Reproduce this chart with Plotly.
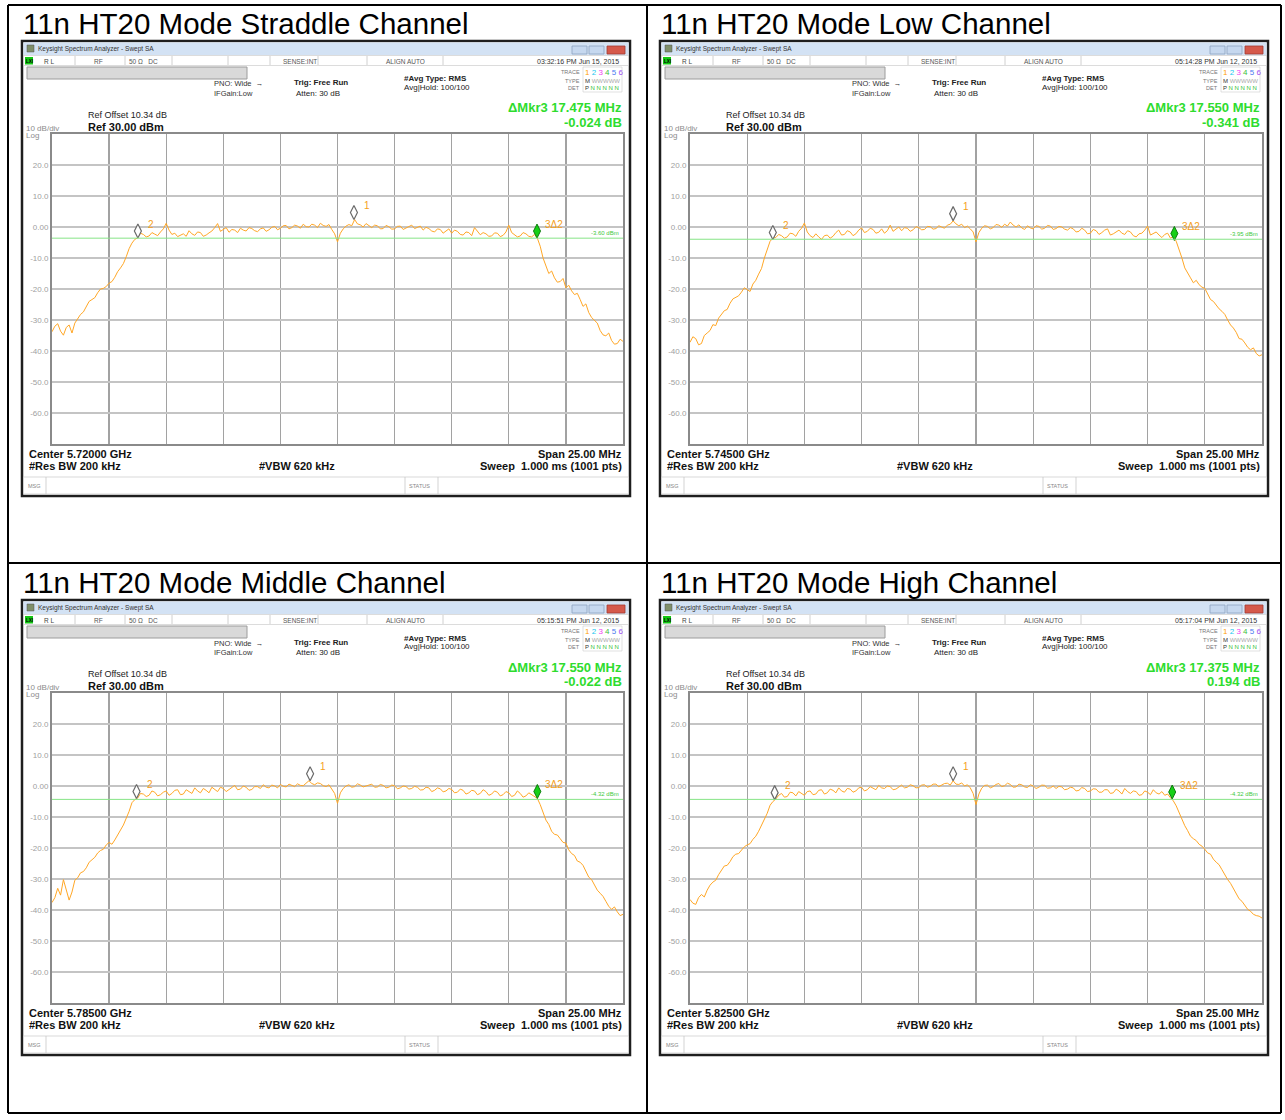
import plotly.graph_objects as go

W, H = 1285, 1120
FONT = "Liberation Sans, Arial, sans-serif"

# ---------------- data ----------------
PANEL_TITLES = ["11n HT20 Mode Straddle Channel", "11n HT20 Mode Low Channel",
                "11n HT20 Mode Middle Channel", "11n HT20 Mode High Channel"]
CENTER_FREQ = ["5.72000 GHz", "5.74500 GHz", "5.78500 GHz", "5.82500 GHz"]
TIMESTAMPS = ["03:32:16 PM Jun 15, 2015", "05:14:28 PM Jun 12, 2015",
              "05:15:51 PM Jun 12, 2015", "05:17:04 PM Jun 12, 2015"]
DELTA_MKR_MHZ = [17.475, 17.550, 17.550, 17.375]
DELTA_MKR_DB = [-0.024, -0.341, -0.022, 0.194]
DISPLAY_LINE_DBM = [-3.60, -3.95, -4.32, -4.32]
MKR1_MHZ = [0.72, -1.00, -1.20, -1.00]
MKR1_DBM = [2.40, 2.05, 1.68, 1.68]
MKR2_MHZ = [-8.74, -8.88, -8.80, -8.80]
MKR2_DBM = [-3.55, -4.00, -4.00, -4.40]

Y_TICKS = [20, 10, 0, -10, -20, -30, -40, -50, -60]
Y_TICK_TEXT = ["20.0", "10.0", "0.00", "-10.0", "-20.0", "-30.0", "-40.0", "-50.0", "-60.0"]

SPAN_MHZ = 25.0
FREQ_OFFSET_MHZ = [round(-12.5 + 0.125 * i, 3) for i in range(201)]

TRACE_STRADDLE = [
    -33.8, -32.0, -31.2, -33.6, -34.9, -32.4, -31.6, -34.2, -31.0, -29.4,
    -28.2, -27.4, -25.6, -24.0, -23.4, -22.8, -21.2, -20.0, -19.8, -19.2,
    -18.1, -17.6, -16.2, -14.4, -13.2, -11.8, -9.6, -7.0, -5.2, -4.0,
    -3.5, -2.0, -2.4, -3.2, -2.9, -1.8, -2.3, -2.8, -1.6, -0.6,
    1.2, -1.0, -2.4, -2.0, -3.1, -2.6, -2.2, -3.0, -1.2, -2.2,
    -2.7, -1.6, -1.8, -3.0, -2.6, -1.9, -1.3, -0.2, 1.1, -1.4,
    -0.9, -0.2, -1.7, -0.8, -1.0, -1.8, -0.4, -1.0, -1.3, -0.2,
    -0.5, -1.2, -1.5, -0.6, -0.3, -1.4, -0.9, -0.1, 0.2, -0.9,
    -0.4, 0.4, 0.5, -0.6, -0.2, 0.6, 0.3, -0.4, 0.9, 0.1,
    0.0, 0.9, 0.6, -0.2, 1.2, 0.5, 0.2, 0.8, -0.8, -2.2,
    -4.8, -2.0, -0.6, 0.3, 0.8, 0.4, 2.4, 1.0, 0.7, 0.0,
    1.1, 0.5, -0.2, 0.6, 0.4, -0.6, -0.5, 0.5, 0.1, -0.7,
    -0.6, 0.2, 0.3, -0.8, -0.4, 0.1, 0.6, -0.5, -0.2, 0.3,
    -1.0, -0.1, -0.5, -1.3, -1.6, -0.6, -0.8, -2.0, -1.3, -0.6,
    -2.0, -1.0, -1.4, -2.4, -2.6, -1.6, -1.8, -2.8, -0.2, -1.4,
    -2.5, -1.8, -2.2, -3.0, -2.9, -1.9, -2.0, -3.1, -2.7, -1.6,
    0.6, -1.8, -2.4, -3.2, -2.9, -1.8, -2.2, -3.0, -3.2, -2.4,
    -3.6, -6.2, -10.0, -12.8, -15.0, -14.2, -16.4, -17.8, -17.6, -16.6,
    -19.6, -18.8, -20.6, -21.8, -21.4, -23.4, -25.6, -24.8, -27.6, -29.2,
    -30.2, -31.0, -33.4, -34.8, -35.1, -34.2, -36.6, -37.8, -37.6, -36.2,
    -36.9]
TRACE_LOW = [
    -37.2, -35.4, -36.0, -38.0, -37.6, -35.0, -34.2, -33.4, -31.5, -31.8,
    -29.4, -28.0, -27.0, -26.6, -24.6, -23.2, -22.8, -22.2, -21.0, -19.6,
    -20.2, -20.8, -18.4, -17.2, -15.2, -13.4, -10.0, -7.6, -4.6, -3.6,
    -3.4, -2.4, -2.8, -3.6, -3.2, -2.0, -2.2, -3.0, -1.4, -0.4,
    1.3, -1.6, -2.8, -3.4, -2.2, -3.2, -4.0, -2.8, -2.6, -3.6,
    -3.0, -1.8, -1.0, -2.6, -2.4, -1.2, -1.6, -2.8, -2.2, -1.0,
    -0.3, -1.8, -1.4, -0.4, -0.8, -2.0, -1.7, -0.6, -2.0, -1.2,
    0.6, -1.4, -0.6, 0.0, -1.2, -0.2, -0.4, -1.4, -0.9, 0.1,
    -0.2, -0.9, -0.8, 0.2, 0.1, -0.7, -0.5, 0.4, 0.0, -0.4,
    0.6, 0.9, 2.0, 1.0, 0.4, 0.9, -0.2, 0.3, -0.6, -1.6,
    -4.8, -1.8, -0.4, 0.4, 0.2, -0.6, -0.2, 0.8, 0.6, -0.1,
    0.9, 0.3, 1.6, 0.6, 0.0, 0.7, -0.3, -0.8, 0.4, -0.3,
    -0.6, 0.4, 0.2, -0.7, -0.4, 0.5, 0.3, -0.8, -0.5, 0.2,
    0.0, -0.7, -1.0, -0.2, -0.6, -1.6, -1.4, -0.4, -1.0, -2.2,
    -2.0, -0.8, -1.2, -2.4, -1.8, -1.0, -0.6, -2.6, -2.2, -1.6,
    -1.0, -2.0, -2.4, -1.2, -1.6, -2.8, -3.2, -2.2, -2.0, -1.0,
    0.3, -2.6, -2.2, -1.6, -2.6, -3.4, -2.4, -2.0, -3.6, -3.0,
    -4.6, -7.2, -10.0, -13.2, -15.0, -16.4, -18.0, -17.2, -18.6, -19.4,
    -19.8, -21.6, -23.4, -24.0, -25.2, -26.4, -27.2, -28.2, -30.0, -31.6,
    -32.6, -34.0, -36.0, -36.2, -37.4, -38.8, -39.6, -39.0, -40.8, -41.6,
    -41.2]
TRACE_MIDDLE = [
    -37.6, -36.0, -33.0, -35.2, -30.2, -33.4, -36.8, -34.2, -30.4, -29.6,
    -28.0, -27.6, -26.4, -24.6, -23.8, -23.0, -21.6, -20.8, -20.4, -19.0,
    -18.2, -18.8, -17.4, -16.0, -14.2, -12.6, -10.6, -8.2, -5.4, -4.4,
    -3.9, -2.4, -2.6, -3.4, -3.0, -1.6, -2.0, -3.2, -2.8, -2.0,
    -1.6, -3.0, -2.4, -1.4, -1.2, -2.8, -2.6, -1.2, -1.8, -2.4,
    -0.6, -1.6, -2.2, -0.8, -1.4, -2.2, -0.4, -1.0, -1.8, -0.4,
    -0.8, -1.8, -1.2, -0.4, 0.2, -1.2, -1.0, 0.0, -0.4, -1.4,
    -1.1, -0.2, -0.2, -0.8, 0.4, -0.4, -0.6, 0.3, 0.0, -0.6,
    0.5, -0.1, -0.3, 0.6, 0.2, -0.2, 0.7, 0.2, 0.1, 0.9,
    1.7, 0.8, 0.4, 1.0, 0.8, 0.1, -0.2, 0.4, -0.9, -2.4,
    -5.6, -2.2, -0.8, 0.0, 0.4, -0.4, -0.2, 0.7, 0.3, -0.3,
    0.0, 0.4, 0.6, -0.4, -0.3, 0.5, 0.2, -0.6, -0.4, 0.3,
    0.1, -0.9, -0.6, 0.0, -0.2, -1.0, -0.8, -0.1, -0.4, -1.3,
    -1.2, -0.4, -0.6, -1.8, -1.4, -0.6, -0.9, -1.9, -1.6, -0.8,
    -1.1, -2.2, -2.0, -1.0, -1.4, -2.6, -2.2, -1.4, -1.6, -2.8,
    -2.4, -1.2, -1.8, -3.0, -2.6, -1.6, -2.0, -3.2, -2.8, -1.8,
    -2.2, -3.4, -3.0, -1.6, -2.4, -3.6, -3.2, -2.2, -2.8, -3.4,
    -4.0, -6.0, -8.6, -11.0, -12.4, -14.6, -15.6, -15.8, -17.0, -18.2,
    -18.4, -20.6, -21.8, -22.4, -24.2, -24.6, -25.6, -27.8, -29.4, -30.2,
    -31.8, -33.6, -34.6, -35.6, -37.2, -38.8, -39.8, -39.0, -40.6, -41.8,
    -41.4]
TRACE_HIGH = [
    -36.6, -37.8, -38.2, -36.0, -35.0, -35.8, -33.6, -32.0, -31.0, -30.4,
    -28.6, -27.0, -25.8, -25.6, -24.4, -22.8, -22.0, -21.8, -20.6, -19.6,
    -19.0, -18.6, -17.2, -16.2, -14.6, -12.8, -11.0, -8.8, -6.2, -5.0,
    -4.2, -3.0, -2.4, -3.6, -3.4, -2.0, -2.2, -3.2, -1.8, -2.4,
    -3.0, -1.8, -1.6, -2.8, -2.6, -1.4, -1.2, -2.6, -2.2, -1.0,
    -1.4, -2.2, -0.6, -1.6, -2.0, -0.8, -1.0, -2.0, -1.6, -0.6,
    -0.4, -1.6, -1.2, -0.2, -0.6, -1.2, 0.2, -0.6, -0.8, 0.0,
    -0.2, -1.2, -1.0, -0.2, 0.3, -0.6, -0.4, 0.4, 0.1, -0.6,
    -0.5, 0.3, 0.4, -0.4, -0.1, 0.6, 0.6, -0.2, 0.2, 0.8,
    0.9, 0.3, 1.7, 0.6, 0.5, 1.0, 0.0, 0.4, -0.6, -2.4,
    -6.0, -2.6, -0.7, 0.2, 0.3, -0.6, -0.2, 0.5, 0.8, -0.2,
    0.1, 0.9, 0.5, -0.4, -0.3, 0.6, 0.4, -0.3, -0.5, 0.4,
    0.0, -0.8, -0.4, 0.3, 0.2, -0.7, -0.6, 0.0, -0.8, -0.1,
    -0.3, -1.2, -1.0, -0.4, -0.6, -1.6, -1.4, -0.5, -0.8, -1.8,
    -1.6, -0.9, -1.0, -2.0, -2.0, -1.2, -1.2, -2.4, -2.2, -1.0,
    -1.6, -2.6, -0.8, -1.8, -2.4, -1.6, -1.8, -3.0, -2.8, -1.6,
    -2.0, -2.8, -1.2, -2.2, -2.6, -1.8, -3.0, -2.6, -3.8, -4.8,
    -6.4, -8.6, -10.8, -12.8, -14.4, -16.2, -17.0, -17.6, -18.8, -19.4,
    -20.4, -21.6, -22.0, -23.6, -24.6, -25.4, -27.0, -28.8, -30.2, -31.4,
    -33.0, -35.0, -36.4, -37.2, -38.6, -39.8, -40.4, -41.4, -41.8, -42.0,
    -42.6]
TRACES = [TRACE_STRADDLE, TRACE_LOW, TRACE_MIDDLE, TRACE_HIGH]

# ---------------- layout helpers ----------------
PANEL_OFFSETS = [(0, 0), (638, 0), (0, 559), (638, 559)]
PLOT_BOX = (52, 134, 623, 444)           # left, top, right, bottom of graticule (panel 1)
TRACE_COLOR = "#ffa726"
GREEN = "#2edc2e"
MARKER_LIFT_PX = 7


def PX(x):
    return x / W


def PY(y):
    return 1 - y / H


shapes = []
annotations = []


def rect(x0, y0, x1, y1, fill, line="rgba(0,0,0,0)", width=0, layer="below"):
    shapes.append(dict(type="rect", xref="paper", yref="paper",
                       x0=PX(x0), x1=PX(x1), y0=PY(y1), y1=PY(y0),
                       fillcolor=fill, line=dict(color=line, width=width), layer=layer))


def line(x0, y0, x1, y1, color, width=1, layer="below"):
    shapes.append(dict(type="line", xref="paper", yref="paper",
                       x0=PX(x0), x1=PX(x1), y0=PY(y0), y1=PY(y1),
                       line=dict(color=color, width=width), layer=layer))


def text(x, y, s, size, color="#000000", xanchor="left", bold=False, yanchor="middle"):
    if bold:
        s = "<b>" + s + "</b>"
    annotations.append(dict(x=PX(x), y=PY(y), xref="paper", yref="paper", text=s,
                            showarrow=False, xanchor=xanchor, yanchor=yanchor, borderpad=0,
                            font=dict(size=size, color=color, family=FONT)))


fig = go.Figure()
layout_axes = {}

for k in range(4):
    dx, dy = PANEL_OFFSETS[k]
    xa = "x" if k == 0 else "x%d" % (k + 1)
    ya = "y" if k == 0 else "y%d" % (k + 1)
    xkey = "xaxis" if k == 0 else "xaxis%d" % (k + 1)
    ykey = "yaxis" if k == 0 else "yaxis%d" % (k + 1)
    L, T, R, B = PLOT_BOX
    L += dx; R += dx; T += dy; B += dy
    if k % 2 == 1:
        R += 1

    layout_axes[xkey] = dict(domain=[PX(L), PX(R)], range=[-SPAN_MHZ / 2, SPAN_MHZ / 2],
                             dtick=2.5, tick0=0, showgrid=True, gridcolor="#a2a2a2", gridwidth=1.3,
                             showticklabels=False, zeroline=False, showline=True, mirror=True,
                             linecolor="#8a8a8a", linewidth=2, anchor=ya, fixedrange=True)
    layout_axes[ykey] = dict(domain=[PY(B), PY(T)], range=[-70, 30],
                             tickmode="array", tickvals=Y_TICKS, ticktext=Y_TICK_TEXT,
                             tickfont=dict(size=8, color="#a0a0a0", family=FONT),
                             showgrid=True, gridcolor="#c4c4c4", gridwidth=1.3, ticks="",
                             zeroline=False, showline=True, mirror=True, linecolor="#8a8a8a",
                             linewidth=2, anchor=xa, fixedrange=True)

    # ---- window chrome ----
    rect(22 + dx, 41 + dy, 630 + dx, 496 + dy, "#ffffff", "#1e1e1e", 2.5)
    rect(23.5 + dx, 42.5 + dy, 628.5 + dx, 55 + dy, "#d3e2f4")
    rect(27 + dx, 45 + dy, 34 + dx, 52 + dy, "#7f8f6a", "#505050", 0.5)
    rect(23.5 + dx, 55.5 + dy, 628.5 + dx, 65.5 + dy, "#ffffff", "#c4c4c4", 0.6)
    rect(25 + dx, 57 + dy, 33 + dx, 64.5 + dy, "#14c814")
    for sx in [75, 125, 172, 228, 270, 318, 367, 443]:
        line(sx + dx, 56 + dy, sx + dx, 65 + dy, "#c4c4c4", 0.8)
    rect(27 + dx, 67 + dy, 247 + dx, 79 + dy, "#d9d9d9", "#9c9c9c", 1)
    rect(572 + dx, 46 + dy, 587 + dx, 54 + dy, "#c6d8ef", "#8ea3c0", 0.8)
    rect(589 + dx, 46 + dy, 604 + dx, 54 + dy, "#c6d8ef", "#8ea3c0", 0.8)
    rect(607 + dx, 46 + dy, 625 + dx, 54 + dy, "#d5594b", "#a33b30", 0.8)
    rect(583 + dx, 67 + dy, 622 + dx, 92 + dy, "rgba(0,0,0,0)", "#cfcfcf", 0.6)
    rect(23.5 + dx, 477 + dy, 628.5 + dx, 494 + dy, "#ffffff", "#c8c8c8", 0.7)
    for sx in [46, 405, 438]:
        line(sx + dx, 477 + dy, sx + dx, 494 + dy, "#c8c8c8", 0.8)

    # ---- texts ----
    text(22 + dx, 23 + dy, PANEL_TITLES[k], 29.5)
    text(37 + dx, 49 + dy, "Keysight Spectrum Analyzer - Swept SA", 6.5, "#333333")
    text(29 + dx, 61 + dy, "LXI", 4.5, "#000000", "center", True)
    text(43 + dx, 61 + dy, "R L", 6.5, "#444444")
    text(93 + dx, 61 + dy, "RF", 6.5, "#555555")
    text(128 + dx, 61 + dy, "50 \u03a9   DC", 6.5, "#555555")
    text(282 + dx, 61 + dy, "SENSE:INT", 6.5, "#555555")
    text(385 + dx, 61 + dy, "ALIGN AUTO", 6.5, "#555555")
    text(620 + dx, 61.5 + dy, TIMESTAMPS[k], 7, "#333333", "right")
    text(213 + dx, 84 + dy, "PNO: Wide  \u2192", 7.5, "#333333")
    text(213 + dx, 93 + dy, "IFGain:Low", 7.5, "#333333")
    text(293 + dx, 83 + dy, "Trig: Free Run", 8, "#222222", bold=True)
    text(295 + dx, 93 + dy, "Atten: 30 dB", 8, "#222222")
    text(403 + dx, 79 + dy, "#Avg Type: RMS", 8, "#222222", bold=True)
    text(403 + dx, 88 + dy, "Avg|Hold: 100/100", 8, "#222222")
    text(581 + dx, 72 + dy, "TRACE", 5.5, "#777777", "right")
    text(581 + dx, 80.5 + dy, "TYPE", 5.5, "#777777", "right")
    text(581 + dx, 88 + dy, "DET", 5.5, "#777777", "right")
    text(584 + dx, 72 + dy,
         "<span style='color:#ffa000'>1</span> <span style='color:#20c8f0'>2</span> "
         "<span style='color:#f040f0'>3</span> <span style='color:#40c040'>4</span> "
         "<span style='color:#4a7cf0'>5</span> <span style='color:#a050f0'>6</span>", 8)
    text(584 + dx, 80.5 + dy, "M <span style='color:#aaaaaa'>WWWWW</span>", 6, "#333333")
    text(584 + dx, 88 + dy, "P <span style='color:#30c030'>N N N N N</span>", 6, "#333333")
    text(623 + dx, 108 + dy, "\u0394Mkr3 %.3f MHz" % DELTA_MKR_MHZ[k], 13, GREEN, "right", True)
    text(623 + dx, 122 + dy, "%.3f dB" % DELTA_MKR_DB[k], 13, GREEN, "right", True)
    text(87 + dx, 115 + dy, "Ref Offset 10.34 dB", 9, "#222222")
    text(25 + dx, 128 + dy, "10 dB/div", 8, "#8c8c8c")
    text(25 + dx, 135 + dy, "Log", 8, "#8c8c8c")
    text(87 + dx, 127 + dy, "Ref 30.00 dBm", 11, "#111111", bold=True)
    text(28 + dx, 454 + dy, "Center " + CENTER_FREQ[k], 11, "#111111", bold=True)
    text(28 + dx, 466 + dy, "#Res BW 200 kHz", 11, "#111111", bold=True)
    text(258 + dx, 466 + dy, "#VBW 620 kHz", 11, "#111111", bold=True)
    text(623 + dx, 454 + dy, "Span 25.00 MHz", 11, "#111111", "right", True)
    text(623 + dx, 466 + dy, "Sweep  1.000 ms (1001 pts)", 11, "#111111", "right", True)
    text(27 + dx, 485.5 + dy, "MSG", 5.5, "#888888")
    text(408 + dx, 485.5 + dy, "STATUS", 5.5, "#888888")

    # ---- display line ----
    shapes.append(dict(type="line", xref=xa, yref=ya, x0=-SPAN_MHZ / 2, x1=SPAN_MHZ / 2,
                       y0=DISPLAY_LINE_DBM[k], y1=DISPLAY_LINE_DBM[k],
                       line=dict(color="#86e486", width=1)))
    annotations.append(dict(x=SPAN_MHZ / 2, y=DISPLAY_LINE_DBM[k], xref=xa, yref=ya,
                            text="%.2f dBm" % DISPLAY_LINE_DBM[k], showarrow=False,
                            xanchor="right", yanchor="bottom", xshift=-2, yshift=0,
                            font=dict(size=6, color="#3cc83c", family=FONT)))

    # ---- spectrum trace ----
    fig.add_trace(go.Scatter(x=FREQ_OFFSET_MHZ, y=TRACES[k], mode="lines", xaxis=xa, yaxis=ya,
                             line=dict(color=TRACE_COLOR, width=1), hoverinfo="skip",
                             showlegend=False))

    # ---- markers ----
    lift_db = MARKER_LIFT_PX * 100.0 / (B - T)
    mkr3_f = MKR2_MHZ[k] + DELTA_MKR_MHZ[k]
    mkr3_l = MKR2_DBM[k] + DELTA_MKR_DB[k]
    fig.add_trace(go.Scatter(x=[MKR1_MHZ[k], MKR2_MHZ[k]],
                             y=[MKR1_DBM[k] + lift_db, MKR2_DBM[k] + lift_db],
                             mode="markers", xaxis=xa, yaxis=ya, hoverinfo="skip", showlegend=False,
                             marker=dict(symbol="diamond-tall", size=10, color="#ffffff",
                                         line=dict(color="#6a6a6a", width=1.2))))
    fig.add_trace(go.Scatter(x=[mkr3_f], y=[mkr3_l + lift_db],
                             mode="markers", xaxis=xa, yaxis=ya, hoverinfo="skip", showlegend=False,
                             marker=dict(symbol="diamond-tall", size=10, color="#16d016",
                                         line=dict(color="#0b7a0b", width=1))))
    for fx, lv, lab, xs in [(MKR1_MHZ[k], MKR1_DBM[k], "1", 8),
                            (MKR2_MHZ[k], MKR2_DBM[k], "2", 8),
                            (mkr3_f, mkr3_l, "3\u03942", 6)]:
        annotations.append(dict(x=fx, y=lv, xref=xa, yref=ya, text=lab, showarrow=False,
                                xanchor="left", yanchor="middle", xshift=xs, yshift=14,
                                font=dict(size=10, color="#f5a020", family=FONT)))

# ---- table grid ----
for (x0, y0, x1, y1) in [(8, 5, 1281, 5), (8, 563, 1281, 563), (8, 1113, 1281, 1113),
                         (8, 5, 8, 1113), (647, 5, 647, 1113), (1281, 5, 1281, 1113)]:
    line(x0, y0, x1, y1, "#000000", 2, "above")

fig.update_layout(width=W, height=H, margin=dict(l=0, r=0, t=0, b=0),
                  paper_bgcolor="#ffffff", plot_bgcolor="rgba(0,0,0,0)",
                  shapes=shapes, annotations=annotations, showlegend=False, **layout_axes)

fig.write_html("out.html", config={"displayModeBar": False, "staticPlot": True},
               post_script="document.body.style.margin='0px';")
